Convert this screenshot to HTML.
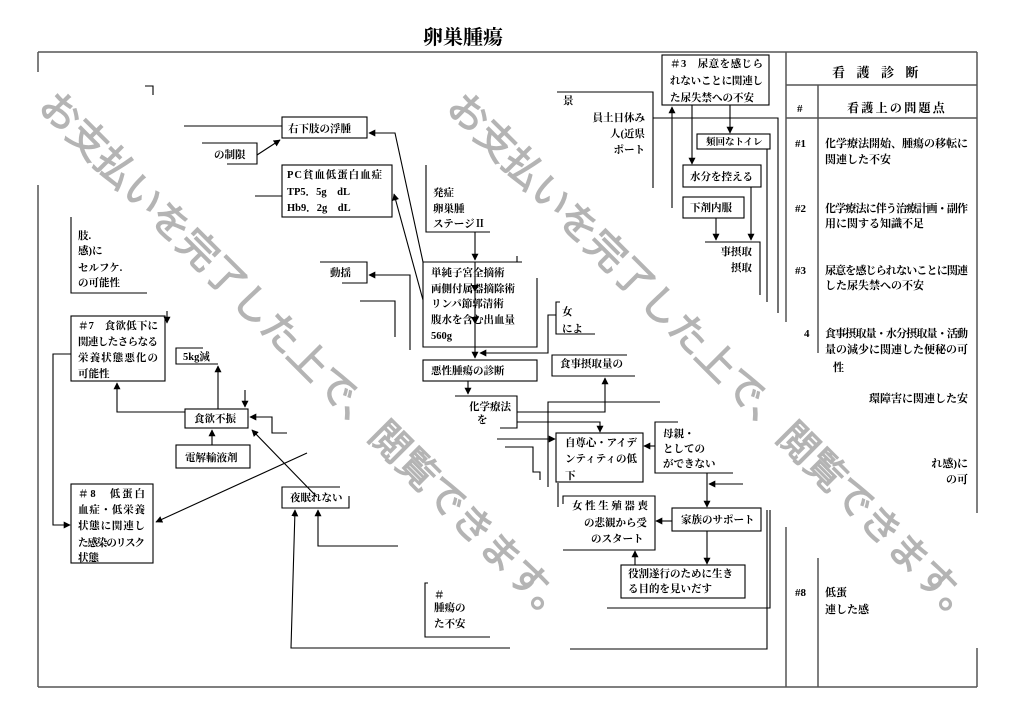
<!DOCTYPE html>
<html><head><meta charset="utf-8"><style>
html,body{margin:0;padding:0;background:#fff;width:1024px;height:724px;overflow:hidden}
svg{display:block}
.b{font-family:"Liberation Serif","Noto Serif CJK JP",serif;font-size:10.5px;font-weight:bold;fill:#000}
.t{font-family:"Liberation Serif","Noto Serif CJK JP",serif;font-size:11px;font-weight:bold;fill:#000}
.h{font-family:"Liberation Serif","Noto Serif CJK JP",serif;font-size:13px;font-weight:bold;fill:#000}
.w{font-family:"Liberation Sans","Noto Sans CJK JP",sans-serif;font-size:39px;fill:#b4b4b4;stroke:#b4b4b4;stroke-width:1.2px}
</style></head><body>
<svg width="1024" height="724" viewBox="0 0 1024 724">
<defs>
<marker id="a" viewBox="0 0 10 10" refX="9" refY="5" markerWidth="7" markerHeight="7" markerUnits="userSpaceOnUse" orient="auto"><path d="M0,0L10,5L0,10z" fill="#000"/></marker>
</defs>

<!-- title -->
<text x="423" y="44" style="font-family:'Liberation Serif','Noto Serif CJK JP',serif;font-size:20px;font-weight:bold">卵巣腫瘍</text>

<!-- outer frame -->
<g stroke="#555" stroke-width="1.5" fill="none">
<path d="M38,52H977"/>
<path d="M38,52V72M38,185V687"/>
<path d="M38,687H977"/>
<path d="M977,52V513M977,648V687"/>
<path d="M786,52V322M786,527V687"/>
<path d="M786,85H977M786,118H977"/>
<path d="M818,85V353M818,558V687"/>
</g>

<!-- table text -->
<text class="h" x="832" y="77" letter-spacing="11.5">看護診断</text>
<text class="t" x="797" y="112">#</text>
<text class="h" x="847" y="112" style="font-size:12px" letter-spacing="2.3">看護上の問題点</text>

<text class="t" x="795" y="147">#1</text>
<text class="t" x="825" y="147" textLength="143">化学療法開始、腫瘍の移転に</text>
<text class="t" x="825" y="163">関連した不安</text>

<text class="t" x="795" y="212">#2</text>
<text class="t" x="825" y="212" textLength="143">化学療法に伴う治療計画・副作</text>
<text class="t" x="825" y="227">用に関する知識不足</text>

<text class="t" x="795" y="274">#3</text>
<text class="t" x="825" y="274" textLength="143">尿意を感じられないことに関連</text>
<text class="t" x="825" y="289">した尿失禁への不安</text>

<text class="t" x="804" y="337">4</text>
<text class="t" x="825" y="337" textLength="143">食事摂取量・水分摂取量・活動</text>
<text class="t" x="825" y="353" textLength="143">量の減少に関連した便秘の可</text>
<text class="t" x="833" y="371">性</text>

<text class="t" x="968" y="402" text-anchor="end">環障害に関連した安</text>
<text class="t" x="968" y="467" text-anchor="end">れ感)に</text>
<text class="t" x="968" y="483" text-anchor="end">の可</text>

<text class="t" x="795" y="596">#8</text>
<text class="t" x="825" y="596">低蛋</text>
<text class="t" x="825" y="613">連した感</text>

<!-- diagram lines & boxes -->
<g stroke="#000" stroke-width="1.1" fill="none">
<path d="M145,86H153V95"/>
<path d="M184,126H282"/>
<rect x="282" y="117" width="85" height="21"/>
<path d="M202,143H257V164H227"/>
<path d="M257,155L280,140" marker-end="url(#a)"/>
<rect x="282" y="165" width="110" height="52"/>
<path d="M255,196H282"/>
<path d="M71,217V293H147"/>
<path d="M320,262H367V283H342"/>
<path d="M410,350V275H369" marker-end="url(#a)"/>
<path d="M360,301H395V337"/>
<rect x="71" y="316" width="94" height="65"/>
<path d="M167,311V323" marker-end="url(#a)"/>
<path d="M71,354H53V525H70" marker-end="url(#a)"/>
<path d="M203,348H176V364H218"/>
<path d="M218,409V366" marker-end="url(#a)"/>
<rect x="185" y="409" width="63" height="19"/>
<path d="M185,412H117V383" marker-end="url(#a)"/>
<path d="M245,390V407" marker-end="url(#a)"/>
<path d="M287,433H272V417H250" marker-end="url(#a)"/>
<rect x="176" y="445" width="74" height="23"/>
<path d="M212,445V430" marker-end="url(#a)"/>
<path d="M317,497L252,430" marker-end="url(#a)"/>
<path d="M307,453L156,522" marker-end="url(#a)"/>
<path d="M340,487H282V508H349V496"/>
<path d="M510,648H291L295,510" marker-end="url(#a)"/>
<path d="M398,546H318V510" marker-end="url(#a)"/>
<rect x="71" y="484" width="82" height="79"/>
<path d="M428,583H425V637H490"/>
<path d="M570,649H767V510"/>
<path d="M607,608H770V510"/>
<path d="M426,165V232H490"/>
<path d="M475,232V260" marker-end="url(#a)"/>
<path d="M423,262L395,133H369" marker-end="url(#a)"/>
<path d="M423,300L394,194" marker-end="url(#a)"/>
<path d="M522,262H423V347H537V278"/>
<path d="M517,256V262"/>
<path d="M475,262V358" marker-end="url(#a)"/>
<path d="M560,302H556V334H595"/>
<path d="M556,315H548V353H480" marker-end="url(#a)"/>
<rect x="423" y="360" width="114" height="21"/>
<path d="M468,381V394" marker-end="url(#a)"/>
<path d="M455,396H517V428H500"/>
<path d="M517,412H605V378" marker-end="url(#a)"/>
<path d="M517,422H600V432" marker-end="url(#a)"/>
<path d="M548,487V402H660"/>
<path d="M627,355H552V376H635"/>
<rect x="556" y="433" width="87" height="49"/>
<path d="M497,439H555" marker-end="url(#a)"/>
<path d="M505,447H533V472H540V480"/>
<path d="M558,483V507"/>
<path d="M563,504V496H655V550H563"/>
<path d="M635,565V551" marker-end="url(#a)"/>
<rect x="621" y="565" width="124" height="33"/>
<path d="M672,521H656" marker-end="url(#a)"/>
<rect x="672" y="508" width="89" height="23"/>
<path d="M707,531V564" marker-end="url(#a)"/>
<path d="M707,473V507" marker-end="url(#a)"/>
<path d="M743,484H709" marker-end="url(#a)"/>
<path d="M678,422H655V473H733"/>
<path d="M655,446H644" marker-end="url(#a)"/>
<path d="M557,92H653V188"/>
<path d="M653,118H778V313"/>
<rect x="662" y="55" width="107" height="50"/>
<path d="M672,208V107" marker-end="url(#a)"/>
<path d="M730,105V133" marker-end="url(#a)"/>
<rect x="697" y="134" width="73" height="15"/>
<path d="M767,149V302"/>
<path d="M692,105V164" marker-end="url(#a)"/>
<rect x="683" y="165" width="78" height="22"/>
<path d="M751,187V240" marker-end="url(#a)"/>
<rect x="683" y="197" width="61" height="21"/>
<path d="M716,218V240" marker-end="url(#a)"/>
<path d="M705,242H760V295"/>
</g>
<path d="M471,285L479,285L475,292z M471,317L479,317L475,324z" fill="#000"/>

<!-- diagram text -->
<text class="b" x="288" y="132">右下肢の浮腫</text>
<text class="b" x="214" y="158">の制限</text>
<text class="b" x="287" y="178" textLength="95">PC貧血低蛋白血症</text>
<text class="b" x="287" y="195">TP5．5g　dL</text>
<text class="b" x="287" y="211">Hb9．2g　dL</text>
<text class="b" x="78" y="239">肢.</text>
<text class="b" x="78" y="254">感)に</text>
<text class="b" x="78" y="271">セルフケ.</text>
<text class="b" x="78" y="286">の可能性</text>
<text class="b" x="330" y="276">動揺</text>
<text class="b" x="78" y="329" textLength="80">＃7　食欲低下に</text>
<text class="b" x="78" y="345" textLength="80">関連したさらなる</text>
<text class="b" x="78" y="361" textLength="80">栄養状態悪化の</text>
<text class="b" x="78" y="377">可能性</text>
<text class="b" x="183" y="360">5kg減</text>
<text class="b" x="194" y="422">食欲不振</text>
<text class="b" x="185" y="461">電解輸液剤</text>
<text class="b" x="290" y="501">夜眠れない</text>
<text class="b" x="78" y="497" textLength="67">＃8　低蛋白</text>
<text class="b" x="78" y="513" textLength="67">血症・低栄養</text>
<text class="b" x="78" y="529" textLength="67">状態に関連し</text>
<text class="b" x="78" y="546" textLength="67">た感染のリスク</text>
<text class="b" x="78" y="561">状態</text>
<text class="b" x="434" y="598">＃</text>
<text class="b" x="434" y="611">腫瘍の</text>
<text class="b" x="434" y="627">た不安</text>
<text class="b" x="433" y="196">発症</text>
<text class="b" x="433" y="212">卵巣腫</text>
<text class="b" x="433" y="227">ステージⅡ</text>
<text class="b" x="431" y="276">単純子宮全摘術</text>
<text class="b" x="431" y="292">両側付属器摘除術</text>
<text class="b" x="431" y="307">リンパ節郭清術</text>
<text class="b" x="431" y="323">腹水を含む出血量</text>
<text class="b" x="431" y="339">560g</text>
<text class="b" x="562" y="315">女</text>
<text class="b" x="562" y="332">によ</text>
<text class="b" x="431" y="374">悪性腫瘍の診断</text>
<text class="b" x="469" y="410">化学療法</text>
<text class="b" x="477" y="423">を</text>
<text class="b" x="560" y="367">食事摂取量の</text>
<text class="b" x="565" y="446" textLength="72">自尊心・アイデ</text>
<text class="b" x="565" y="462" textLength="72">ンティティの低</text>
<text class="b" x="565" y="479">下</text>
<text class="b" x="572" y="509" textLength="76">女性生殖器喪</text>
<text class="b" x="584" y="526">の悲観から受</text>
<text class="b" x="591" y="542">のスタート</text>
<text class="b" x="628" y="577">役割遂行のために生き</text>
<text class="b" x="628" y="592">る目的を見いだす</text>
<text class="b" x="681" y="523">家族のサポート</text>
<text class="b" x="663" y="437">母親・</text>
<text class="b" x="663" y="452">としての</text>
<text class="b" x="663" y="467">ができない</text>
<text class="b" x="563" y="104">景</text>
<text class="b" x="645" y="121" text-anchor="end">員土日休み</text>
<text class="b" x="645" y="137" text-anchor="end">人(近県</text>
<text class="b" x="645" y="153" text-anchor="end">ポート</text>
<text class="b" x="670" y="67" textLength="93">＃3　尿意を感じら</text>
<text class="b" x="670" y="84" textLength="93">れないことに関連し</text>
<text class="b" x="670" y="101">た尿失禁への不安</text>
<text class="b" x="706" y="145" style="font-size:9.5px">頻回なトイレ</text>
<text class="b" x="690" y="180">水分を控える</text>
<text class="b" x="690" y="211">下剤内服</text>
<text class="b" x="752" y="255" text-anchor="end">事摂取</text>
<text class="b" x="752" y="271" text-anchor="end">摂取</text>

<!-- watermarks -->
<text class="w" x="306" y="359" transform="rotate(45 306 359)" text-anchor="middle" dominant-baseline="central">お支払いを完了した上で、閲覧できます。</text>
<text class="w" x="714" y="360" transform="rotate(45 714 360)" text-anchor="middle" dominant-baseline="central">お支払いを完了した上で、閲覧できます。</text>
</svg>
</body></html>
